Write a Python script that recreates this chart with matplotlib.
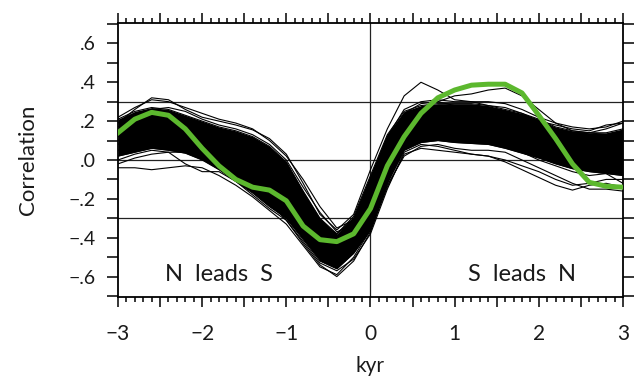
import numpy as np
import matplotlib.pyplot as plt
from matplotlib.ticker import MultipleLocator, FixedLocator

# lag axis, every 0.2 kyr
lag = [-3.0, -2.8, -2.6, -2.4, -2.2, -2.0, -1.8, -1.6, -1.4, -1.2, -1.0,
       -0.8, -0.6, -0.4, -0.2, 0.0, 0.2, 0.4, 0.6, 0.8, 1.0,
       1.2, 1.4, 1.6, 1.8, 2.0, 2.2, 2.4, 2.6, 2.8, 3.0]

# cross-correlation of the observed records
observed = [0.14, 0.21, 0.245, 0.23, 0.16, 0.06, -0.03, -0.10, -0.14, -0.155, -0.21,
            -0.34, -0.41, -0.42, -0.38, -0.25, -0.03, 0.12, 0.24, 0.32, 0.36,
            0.385, 0.39, 0.39, 0.345, 0.23, 0.11, -0.02, -0.115, -0.135, -0.14]

# core of the ensemble (where the members overlap)
ens_upper = [0.21, 0.25, 0.27, 0.26, 0.23, 0.20, 0.17, 0.15, 0.12, 0.07, -0.01,
             -0.16, -0.30, -0.38, -0.29, -0.08, 0.13, 0.25, 0.28, 0.29, 0.29,
             0.29, 0.28, 0.26, 0.24, 0.21, 0.17, 0.15, 0.14, 0.14, 0.16]
ens_lower = [0.02, 0.04, 0.06, 0.05, 0.035, 0.00, -0.05, -0.11, -0.17, -0.24, -0.30,
             -0.41, -0.52, -0.56, -0.48, -0.36, -0.12, 0.05, 0.09, 0.10, 0.09,
             0.085, 0.08, 0.06, 0.035, 0.01, -0.02, -0.045, -0.06, -0.07, -0.08]

# individual members lying along the edges of the ensemble
members = [
    [0.22, 0.27, 0.31, 0.30, 0.27, 0.24, 0.21, 0.19, 0.16, 0.10, 0.02,
     -0.10, -0.24, -0.35, -0.31, -0.10, 0.12, 0.26, 0.30, 0.31, 0.30,
     0.30, 0.30, 0.29, 0.26, 0.22, 0.19, 0.17, 0.16, 0.17, 0.20],
    [0.19, 0.26, 0.32, 0.31, 0.26, 0.22, 0.20, 0.18, 0.155, 0.11, 0.03,
     -0.12, -0.28, -0.36, -0.28, -0.05, 0.16, 0.33, 0.40, 0.36, 0.31,
     0.30, 0.28, 0.27, 0.24, 0.20, 0.18, 0.16, 0.15, 0.18, 0.19],
    [0.17, 0.22, 0.26, 0.27, 0.25, 0.21, 0.18, 0.16, 0.13, 0.08, 0.00,
     -0.14, -0.27, -0.37, -0.33, -0.12, 0.10, 0.22, 0.27, 0.30, 0.33,
     0.34, 0.36, 0.37, 0.33, 0.26, 0.19, 0.15, 0.14, 0.13, 0.15],
    [-0.04, -0.04, -0.05, -0.04, -0.03, -0.04, -0.08, -0.13, -0.19, -0.26, -0.33,
     -0.44, -0.55, -0.59, -0.50, -0.36, -0.14, 0.03, 0.06, 0.05, 0.04,
     0.03, 0.02, 0.00, -0.03, -0.06, -0.10, -0.13, -0.12, -0.10, -0.10],
    [0.00, 0.03, 0.05, 0.04, -0.02, -0.06, -0.06, -0.11, -0.18, -0.25, -0.31,
     -0.42, -0.53, -0.57, -0.51, -0.38, -0.15, 0.04, 0.08, 0.07, 0.05,
     0.03, 0.02, -0.01, -0.05, -0.09, -0.13, -0.155, -0.13, -0.12, -0.14],
    [-0.02, 0.01, 0.03, 0.04, 0.04, 0.01, -0.04, -0.10, -0.16, -0.22, -0.31,
     -0.43, -0.54, -0.60, -0.52, -0.37, -0.13, 0.02, 0.07, 0.08, 0.06,
     0.05, 0.05, 0.04, 0.00, -0.04, -0.08, -0.12, -0.15, -0.15, -0.16],
    [0.05, 0.07, 0.08, 0.08, 0.06, 0.02, -0.02, -0.08, -0.15, -0.23, -0.30,
     -0.40, -0.50, -0.54, -0.46, -0.33, -0.10, 0.06, 0.11, 0.12, 0.10,
     0.09, 0.09, 0.07, 0.04, 0.00, -0.03, -0.06, -0.08, -0.07, -0.12],
    [0.12, 0.18, 0.22, 0.24, 0.22, 0.19, 0.15, 0.12, 0.08, 0.02, -0.06,
     -0.20, -0.33, -0.38, -0.30, -0.09, 0.12, 0.24, 0.29, 0.30, 0.28,
     0.26, 0.25, 0.24, 0.22, 0.19, 0.16, 0.14, 0.14, 0.16, 0.19],
    [0.08, 0.14, 0.17, 0.18, 0.17, 0.14, 0.10, 0.05, -0.01, -0.08, -0.17,
     -0.30, -0.43, -0.48, -0.40, -0.22, 0.02, 0.16, 0.20, 0.19, 0.17,
     0.16, 0.15, 0.12, 0.08, 0.03, -0.01, -0.04, -0.05, -0.04, -0.02],
    [0.10, 0.16, 0.20, 0.20, 0.18, 0.16, 0.13, 0.09, 0.04, -0.03, -0.12,
     -0.25, -0.39, -0.45, -0.37, -0.18, 0.05, 0.19, 0.24, 0.23, 0.21,
     0.20, 0.18, 0.15, 0.11, 0.07, 0.03, 0.02, 0.04, 0.07, 0.10],
]

ytick_vals = [-0.6, -0.4, -0.2, 0.0, 0.2, 0.4, 0.6]
ytick_text = ["\u2212.6", "\u2212.4", "\u2212.2", ".0", ".2", ".4", ".6"]
xtick_vals = [-3, -2, -1, 0, 1, 2, 3]
xtick_text = ["\u22123", "\u22122", "\u22121", "0", "1", "2", "3"]

plt.rcParams["font.family"] = ["Lato", "DejaVu Sans"]
text_color = "#1a1a1a"

fig = plt.figure(figsize=(6.34, 3.78), dpi=100)
ax = fig.add_axes([0.1861, 0.2143, 0.7965, 0.7249])

# reference lines
for yv in (0.3, 0.0, -0.3):
    ax.axhline(yv, color="#222222", lw=0.9, zorder=1)
ax.axvline(0.0, color="#222222", lw=0.9, zorder=1)

ax.fill_between(lag, ens_lower, ens_upper, color="black", lw=0, zorder=2)
for m in members:
    ax.plot(lag, m, color="black", lw=0.8, zorder=3)
ax.plot(lag, ens_upper, color="black", lw=0.8, zorder=3)
ax.plot(lag, ens_lower, color="black", lw=0.8, zorder=3)

ax.plot(lag, observed, color="#5cb82e", lw=3.6, zorder=5,
        solid_joinstyle="round")

ax.set_xlim(-3, 3)
ax.set_ylim(-0.705, 0.705)

xmajor = np.round(np.arange(-3, 3.01, 0.5), 1)
ax.set_xticks(xmajor)
ax.set_xticklabels([xtick_text[xtick_vals.index(int(v))] if v == int(v) else ""
                    for v in xmajor])
ax.xaxis.set_minor_locator(MultipleLocator(0.1))

ymajor = np.round(np.arange(-0.7, 0.71, 0.1), 1)
ax.yaxis.set_major_locator(FixedLocator(ymajor))
ax.set_yticklabels([ytick_text[ytick_vals.index(v)] if v in ytick_vals else ""
                    for v in ymajor])

ax.tick_params(axis="x", which="major", direction="out", length=7.2, width=1.1,
               top=True, bottom=True, labelsize=15, pad=12, labelcolor=text_color)
ax.tick_params(axis="x", which="minor", direction="out", length=3.6, width=1.1,
               top=True, bottom=True)
ax.tick_params(axis="y", which="major", direction="out", length=7.9, width=1.1,
               left=True, right=True, labelsize=14, pad=8, labelcolor=text_color)
for s in ax.spines.values():
    s.set_linewidth(1.3)

ax.set_xlabel("kyr", fontsize=15, labelpad=9, color=text_color)
ax.set_ylabel("Correlation", fontsize=16, labelpad=22, color=text_color)

ax.text(-1.8, -0.59, "N  leads  S", ha="center", va="center", fontsize=17,
        color=text_color)
ax.text(1.8, -0.59, "S  leads  N", ha="center", va="center", fontsize=17,
        color=text_color)

fig.savefig("out.png", dpi=100)
